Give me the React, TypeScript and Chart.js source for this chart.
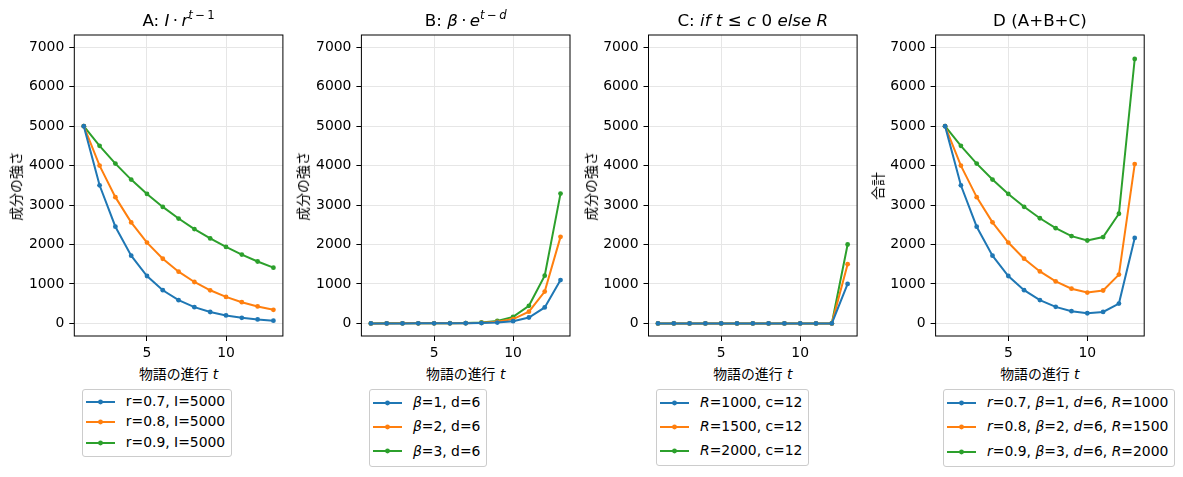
import { useEffect, useRef } from "react";
import type { ReactNode } from "react";
import { Chart, registerables } from "chart.js";

Chart.register(...registerables);

// story progress t = 1..13
const steps = [1, 2, 3, 4, 5, 6, 7, 8, 9, 10, 11, 12, 13];
const xTicks = [5, 10];
const yTicks = [0, 1000, 2000, 3000, 4000, 5000, 6000, 7000];
const colors = ["#1f77b4", "#ff7f0e", "#2ca02c"];

// A: I * r^(t-1)
const decayR07 = [5000, 3500, 2450, 1715, 1200.5, 840.4, 588.2, 411.8, 288.2, 201.8, 141.2, 98.9, 69.2];
const decayR08 = [5000, 4000, 3200, 2560, 2048, 1638.4, 1310.7, 1048.6, 838.9, 671.1, 536.9, 429.5, 343.6];
const decayR09 = [5000, 4500, 4050, 3645, 3280.5, 2952.5, 2657.2, 2391.5, 2152.3, 1937.1, 1743.4, 1569.1, 1412.1];

// B: beta * e^(t-d)
const burstB1 = [0, 0, 0, 0.1, 0.4, 1, 2.7, 7.4, 20.1, 54.6, 148.4, 403.4, 1096.6];
const burstB2 = [0, 0, 0.1, 0.3, 0.7, 2, 5.4, 14.8, 40.2, 109.2, 296.8, 806.9, 2193.3];
const burstB3 = [0, 0.1, 0.1, 0.4, 1.1, 3, 8.2, 22.2, 60.3, 163.8, 445.2, 1210.3, 3289.9];

// C: step at t > c
const stepR1000 = [0, 0, 0, 0, 0, 0, 0, 0, 0, 0, 0, 0, 1000];
const stepR1500 = [0, 0, 0, 0, 0, 0, 0, 0, 0, 0, 0, 0, 1500];
const stepR2000 = [0, 0, 0, 0, 0, 0, 0, 0, 0, 0, 0, 0, 2000];

// D: A + B + C
const totalSet1 = [5000, 3500, 2450.1, 1715.1, 1200.9, 841.4, 590.9, 419.2, 308.3, 256.4, 289.6, 502.3, 2165.8];
const totalSet2 = [5000, 4000, 3200.1, 2560.3, 2048.7, 1640.4, 1316.1, 1063.4, 879.1, 780.3, 833.7, 1236.4, 4036.9];
const totalSet3 = [5000, 4500.1, 4050.1, 3645.4, 3281.6, 2955.5, 2665.4, 2413.7, 2212.6, 2100.9, 2188.6, 2779.4, 6702];

// *x* = italic
const labelsA = ["r=0.7, I=5000", "r=0.8, I=5000", "r=0.9, I=5000"];
const labelsB = ["*β*=1, d=6", "*β*=2, d=6", "*β*=3, d=6"];
const labelsC = ["*R*=1000, c=12", "*R*=1500, c=12", "*R*=2000, c=12"];
const labelsD = [
  "*r*=0.7, *β*=1, *d*=6, *R*=1000",
  "*r*=0.8, *β*=2, *d*=6, *R*=1500",
  "*r*=0.9, *β*=3, *d*=6, *R*=2000",
];

const FONT = '"DejaVu Sans", "Noto Sans CJK JP", sans-serif';
const AXES_W = 208.6;
const AXES_TOP = 35;
const AXES_BOTTOM = 336;
const CANVAS_H = 360;
const CANVAS_W = 280;
const Y_AXIS_W = 52;

const framePlugin = {
  id: "frame",
  afterDatasetsDraw(chart: any) {
    const { ctx, chartArea: a } = chart;
    ctx.save();
    ctx.strokeStyle = "#000";
    ctx.lineWidth = 1;
    ctx.strokeRect(a.left, a.top, a.right - a.left, a.bottom - a.top);
    ctx.restore();
  },
};

function rich(text: string) {
  return text.split("*").map((part, i) =>
    i % 2 === 1 ? <i key={i}>{part}</i> : <span key={i}>{part}</span>
  );
}

type PanelProps = {
  left: number;
  series: number[][];
  labels: string[];
  title: ReactNode;
  yLabel: string;
  rowH: number;
  padTop: number;
  padBottom: number;
};

function Panel({ left, series, labels, title, yLabel, rowH, padTop, padBottom }: PanelProps) {
  const ref = useRef<HTMLCanvasElement>(null);
  const canvasLeft = Math.floor(left) - Y_AXIS_W;

  useEffect(() => {
    if (!ref.current) return;
    const axisW = left - canvasLeft;
    const tickFont = { family: FONT, size: 13.9 };
    const grid = {
      color: "#e6e6e6",
      lineWidth: 1,
      tickColor: "#000",
      tickLength: 5,
      drawTicks: true,
    };
    const chart = new Chart(ref.current, {
      type: "line",
      data: {
        datasets: series.map((vals, i) => ({
          label: labels[i],
          data: steps.map((t, j) => ({ x: t, y: vals[j] })),
          borderColor: colors[i],
          backgroundColor: colors[i],
          pointBackgroundColor: colors[i],
          borderWidth: 2,
          pointRadius: 2.4,
          pointBorderWidth: 0,
          pointHoverRadius: 2.4,
          tension: 0,
        })),
      },
      options: {
        responsive: false,
        animation: false,
        events: [],
        layout: {
          padding: {
            left: 0,
            right: CANVAS_W - axisW - AXES_W,
            top: AXES_TOP,
            bottom: 0,
          },
        },
        plugins: { legend: { display: false }, tooltip: { enabled: false } },
        scales: {
          x: {
            type: "linear",
            min: 0.4,
            max: 13.6,
            grid,
            border: { display: false },
            ticks: {
              font: tickFont,
              color: "#000",
              padding: 4,
              maxRotation: 0,
              callback: (v: any) => String(v),
            },
            afterBuildTicks: (s: any) => {
              s.ticks = xTicks.map((v) => ({ value: v }));
            },
            afterFit: (s: any) => {
              s.height = CANVAS_H - AXES_BOTTOM;
            },
          },
          y: {
            type: "linear",
            min: -320,
            max: 7310,
            grid,
            border: { display: false },
            ticks: {
              font: tickFont,
              color: "#000",
              padding: 5,
              callback: (v: any) => String(v),
            },
            afterBuildTicks: (s: any) => {
              s.ticks = yTicks.map((v) => ({ value: v }));
            },
            afterFit: (s: any) => {
              s.width = axisW;
            },
          },
        },
      },
      plugins: [framePlugin],
    });
    return () => chart.destroy();
  }, []);

  const cx = left + AXES_W / 2;
  return (
    <>
      <canvas
        ref={ref}
        width={CANVAS_W}
        height={CANVAS_H}
        style={{ position: "absolute", left: canvasLeft, top: 0, width: CANVAS_W, height: CANVAS_H }}
      />
      <div
        style={{
          position: "absolute",
          left: cx,
          top: 12.4,
          transform: "translateX(-50%)",
          fontSize: 16.7,
          lineHeight: 1,
          whiteSpace: "nowrap",
          color: "#000",
        }}
      >
        {title}
      </div>
      <div
        style={{
          position: "absolute",
          left: left - 57,
          top: (AXES_TOP + AXES_BOTTOM) / 2,
          transform: "translate(-50%, -50%) rotate(-90deg)",
          fontSize: 13.9,
          lineHeight: 1,
          whiteSpace: "nowrap",
        }}
      >
        {yLabel}
      </div>
      <div
        style={{
          position: "absolute",
          left: cx,
          top: 374.5,
          transform: "translate(-50%, -50%)",
          fontSize: 13.9,
          lineHeight: 1,
          whiteSpace: "nowrap",
        }}
      >
        物語の進行 <i>t</i>
      </div>
      <div
        style={{
          position: "absolute",
          left: left + 7.5,
          top: 389,
          border: "1px solid #cccccc",
          borderRadius: 3,
          padding: `${padTop}px 6px ${padBottom}px 3px`,
          background: "rgba(255,255,255,0.8)",
          fontSize: 13.9,
          whiteSpace: "nowrap",
        }}
      >
        {labels.map((lab, i) => (
          <div key={i} style={{ display: "flex", alignItems: "center", height: rowH }}>
            <svg width={29} height={10} style={{ marginRight: 11, flex: "none" }}>
              <line x1={0} y1={5} x2={29} y2={5} stroke={colors[i]} strokeWidth={2} />
              <circle cx={14.5} cy={5} r={2.4} fill={colors[i]} />
            </svg>
            <span style={{ lineHeight: 1 }}>{rich(lab)}</span>
          </div>
        ))}
      </div>
    </>
  );
}

const sup = (n: ReactNode) => (
  <span style={{ fontSize: "0.7em", position: "relative", top: "-0.6em" }}>{n}</span>
);

const dot = <span>{"\u2009·\u2009"}</span>;

export default function App() {
  useEffect(() => {
    document.body.style.margin = "0";
  }, []);
  const lefts = [74.3, 361.4, 648.5, 935.6];
  return (
    <div
      style={{
        position: "fixed",
        left: 0,
        top: 0,
        width: 1183,
        height: 477,
        background: "#fff",
        fontFamily: FONT,
        color: "#000",
        overflow: "hidden",
      }}
    >
      <Panel
        left={lefts[0]}
        series={[decayR07, decayR08, decayR09]}
        labels={labelsA}
        title={
          <>
            A: <i>I</i>
            {dot}
            <i>r</i>
            {sup(<><i>t</i>{"\u2009−\u2009"}1</>)}
          </>
        }
        yLabel="成分の強さ"
        rowH={20.5}
        padTop={1.5}
        padBottom={2.5}
      />
      <Panel
        left={lefts[1]}
        series={[burstB1, burstB2, burstB3]}
        labels={labelsB}
        title={
          <>
            B: <i>β</i>
            {dot}
            <i>e</i>
            {sup(<><i>t</i>{"\u2009−\u2009"}<i>d</i></>)}
          </>
        }
        yLabel="成分の強さ"
        rowH={24.4}
        padTop={0.5}
        padBottom={2}
      />
      <Panel
        left={lefts[2]}
        series={[stepR1000, stepR1500, stepR2000]}
        labels={labelsC}
        title={
          <>
            C: <i>if t</i> ≤ <i>c</i> 0 <i>else R</i>
          </>
        }
        yLabel="成分の強さ"
        rowH={24.2}
        padTop={0.5}
        padBottom={2}
      />
      <Panel
        left={lefts[3]}
        series={[totalSet1, totalSet2, totalSet3]}
        labels={labelsD}
        title={<>D (A+B+C)</>}
        yLabel="合計"
        rowH={24.5}
        padTop={0.5}
        padBottom={2}
      />
    </div>
  );
}
